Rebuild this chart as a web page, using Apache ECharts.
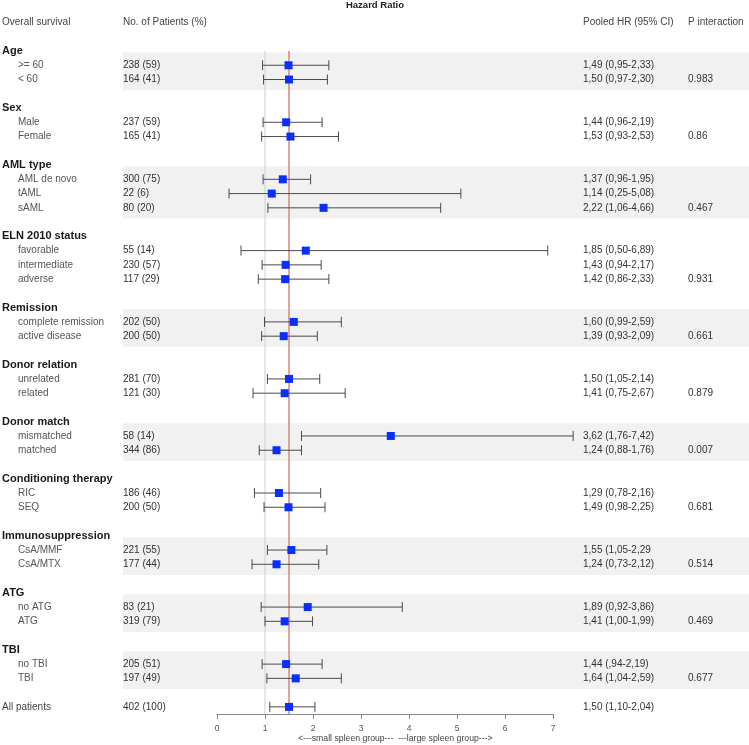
<!DOCTYPE html>
<html>
<head>
<meta charset="utf-8">
<script src="https://cdn.jsdelivr.net/npm/echarts@6/dist/echarts.min.js"></script>
<style>
  html, body { margin: 0; padding: 0; background: #fff; }
  #chart { width: 749px; height: 745px; }
</style>
</head>
<body>
<div id="chart"></div>
<script>
// 分组
var groupNames = ['Age', 'Sex', 'AML type', 'ELN 2010 status', 'Remission', 'Donor relation',
  'Donor match', 'Conditioning therapy', 'Immunosuppression', 'ATG', 'TBI']
var groupSizes = [2, 2, 3, 3, 2, 2, 2, 2, 2, 2, 2]
var groupShaded = [true, false, true, false, true, false, true, false, true, true, true]
var pInteraction = ['0.983', '0.86', '0.467', '0.931', '0.661', '0.879', '0.007', '0.681', '0.514', '0.469', '0.677']

// 子组 (last one = all patients)
var rowLabels = ['>= 60', '< 60', 'Male', 'Female', 'AML de novo', 'tAML', 'sAML',
  'favorable', 'intermediate', 'adverse', 'complete remission', 'active disease',
  'unrelated', 'related', 'mismatched', 'matched', 'RIC', 'SEQ', 'CsA/MMF', 'CsA/MTX',
  'no ATG', 'ATG', 'no TBI', 'TBI', 'All patients']
var patients = ['238 (59)', '164 (41)', '237 (59)', '165 (41)', '300 (75)', '22 (6)', '80 (20)',
  '55 (14)', '230 (57)', '117 (29)', '202 (50)', '200 (50)', '281 (70)', '121 (30)',
  '58 (14)', '344 (86)', '186 (46)', '200 (50)', '221 (55)', '177 (44)', '83 (21)',
  '319 (79)', '205 (51)', '197 (49)', '402 (100)']
var hr = [1.49, 1.50, 1.44, 1.53, 1.37, 1.14, 2.22, 1.85, 1.43, 1.42, 1.60, 1.39, 1.50, 1.41,
  3.62, 1.24, 1.29, 1.49, 1.55, 1.24, 1.89, 1.41, 1.44, 1.64, 1.50]
var ciLow = [0.95, 0.97, 0.96, 0.93, 0.96, 0.25, 1.06, 0.50, 0.94, 0.86, 0.99, 0.93, 1.05, 0.75,
  1.76, 0.88, 0.78, 0.98, 1.05, 0.73, 0.92, 1.00, 0.94, 1.04, 1.10]
var ciHigh = [2.33, 2.30, 2.19, 2.53, 1.95, 5.08, 4.66, 6.89, 2.17, 2.33, 2.59, 2.09, 2.14, 2.67,
  7.42, 1.76, 2.16, 2.25, 2.29, 2.12, 3.86, 1.99, 2.19, 2.59, 2.04]
var hrText = ['1,49 (0,95-2,33)', '1,50 (0,97-2,30)', '1,44 (0,96-2,19)', '1,53 (0,93-2,53)',
  '1,37 (0,96-1,95)', '1,14 (0,25-5,08)', '2,22 (1,06-4,66)', '1,85 (0,50-6,89)',
  '1,43 (0,94-2,17)', '1,42 (0,86-2,33)', '1,60 (0,99-2,59)', '1,39 (0,93-2,09)',
  '1,50 (1,05-2,14)', '1,41 (0,75-2,67)', '3,62 (1,76-7,42)', '1,24 (0,88-1,76)',
  '1,29 (0,78-2,16)', '1,49 (0,98-2,25)', '1,55 (1,05-2,29', '1,24 (0,73-2,12)',
  '1,89 (0,92-3,86)', '1,41 (1,00-1,99)', '1,44 (,94-2,19)', '1,64 (1,04-2,59)',
  '1,50 (1,10-2,04)']

var xTicks = [0, 1, 2, 3, 4, 5, 6, 7]
var refLines = [1, 1.5] // null line, pooled HR

// column x (px) & fonts
var FONT = 'Liberation Sans, Arial, sans-serif'
var COL_LABEL = 2, COL_SUB = 18, COL_N = 123, COL_HR = 583, COL_P = 688

// 行号: header, items, blank
var rowLine = []
var tableRows = []
var bands = []
var line = 0
var k = 0
for (var g = 0; g < groupNames.length; g++) {
  tableRows.push({ line: line, cells: [{ x: COL_LABEL, text: groupNames[g], font: 'bold 11px ' + FONT, color: '#1a1a1a' }] })
  var first = line + 1
  for (var j = 0; j < groupSizes[g]; j++) {
    line++
    rowLine.push(line)
    var cells = [
      { x: COL_SUB, text: rowLabels[k], font: '10px ' + FONT, color: '#555' },
      { x: COL_N, text: patients[k], font: '10px ' + FONT, color: '#333' },
      { x: COL_HR, text: hrText[k], font: '10px ' + FONT, color: '#333' }
    ]
    if (j == groupSizes[g] - 1) {
      cells.push({ x: COL_P, text: pInteraction[g], font: '10px ' + FONT, color: '#333' })
    }
    tableRows.push({ line: line, cells: cells })
    k++
  }
  if (groupShaded[g]) bands.push([first - 0.9, line + 0.75])
  line += 2
}
// all patients
rowLine.push(line)
tableRows.push({ line: line, cells: [
  { x: COL_LABEL, text: rowLabels[k], font: '10px ' + FONT, color: '#444' },
  { x: COL_N, text: patients[k], font: '10px ' + FONT, color: '#333' },
  { x: COL_HR, text: hrText[k], font: '10px ' + FONT, color: '#333' }
] })
var lastLine = line
// header row
tableRows.push({ line: -2, cells: [
  { x: COL_LABEL, text: 'Overall survival', font: '10px ' + FONT, color: '#444' },
  { x: COL_N, text: 'No. of Patients (%)', font: '10px ' + FONT, color: '#444' },
  { x: COL_HR, text: 'Pooled HR (95% CI)', font: '10px ' + FONT, color: '#444' },
  { x: COL_P, text: 'P interaction', font: '10px ' + FONT, color: '#444' }
] })
tableRows.push({ line: -3.2, cells: [
  { x: 375, text: 'Hazard Ratio', font: 'bold 9.5px ' + FONT, color: '#222', align: 'center' }
] })

var points = hr.map(function(v, i) { return [v, rowLine[i]] })
var whiskers = ciLow.map(function(v, i) { return [v, ciHigh[i], rowLine[i]] })

var myChart = echarts.init(document.getElementById('chart'), null, { renderer: 'canvas' })
myChart.setOption({
  animation: false,
  backgroundColor: '#fff',
  grid: { left: 217, right: 196, top: 51, bottom: 31 },
  xAxis: {
    type: 'value',
    min: xTicks[0],
    max: xTicks[xTicks.length - 1],
    interval: 1,
    position: 'bottom',
    axisLine: { onZero: false, lineStyle: { color: '#888', width: 1 } },
    axisTick: { show: true, length: 5, lineStyle: { color: '#888' } },
    axisLabel: { color: '#555', fontSize: 8.5, fontFamily: FONT, margin: 10 },
    splitLine: { show: false }
  },
  yAxis: {
    type: 'value',
    min: 0,
    max: lastLine + 0.5,
    inverse: true,
    show: false
  },
  graphic: [{
    type: 'text',
    left: 298,
    top: 734,
    style: { text: '<---small spleen group---  ---large spleen group--->', font: '8.7px ' + FONT, fill: '#444' }
  }],
  series: [{
    name: 'bands',
    type: 'custom',
    z: 0,
    silent: true,
    data: bands,
    renderItem: function(params, api) {
      var y0 = api.coord([0, api.value(0)])[1]
      var y1 = api.coord([0, api.value(1)])[1]
      return { type: 'rect', shape: { x: 123, y: y0, width: 626, height: y1 - y0 }, style: { fill: '#f1f1f1' } }
    }
  }, {
    name: 'table',
    type: 'custom',
    z: 1,
    silent: true,
    data: tableRows.map(function(r) { return [0, r.line] }),
    renderItem: function(params, api) {
      var row = tableRows[params.dataIndex]
      var y = api.coord([0, row.line])[1]
      return {
        type: 'group',
        children: row.cells.map(function(c) {
          return { type: 'text', x: c.x, y: y, style: { text: c.text, font: c.font, fill: c.color, align: c.align || 'left', verticalAlign: 'middle' } }
        })
      }
    }
  }, {
    name: 'refLines',
    type: 'custom',
    z: 2,
    silent: true,
    data: refLines.map(function(v) { return [v] }),
    renderItem: function(params, api) {
      var top = api.coord([api.value(0), 0])
      var bot = api.coord([api.value(0), lastLine + 0.5])
      var red = params.dataIndex == 1
      return {
        type: 'line',
        shape: { x1: top[0], y1: top[1], x2: bot[0], y2: bot[1] },
        style: { stroke: red ? '#d9857b' : '#cfcfcf', lineWidth: red ? 1.5 : 1 }
      }
    }
  }, {
    name: 'CI',
    type: 'custom',
    z: 3,
    silent: true,
    data: whiskers,
    renderItem: function(params, api) {
      var a = api.coord([api.value(0), api.value(2)])
      var b = api.coord([api.value(1), api.value(2)])
      var st = { stroke: '#4a4a4a', lineWidth: 1 }
      return {
        type: 'group',
        children: [
          { type: 'line', shape: { x1: a[0], y1: a[1], x2: b[0], y2: b[1] }, style: st },
          { type: 'line', shape: { x1: a[0], y1: a[1] - 5, x2: a[0], y2: a[1] + 5 }, style: st },
          { type: 'line', shape: { x1: b[0], y1: b[1] - 5, x2: b[0], y2: b[1] + 5 }, style: st }
        ]
      }
    }
  }, {
    name: 'HR',
    type: 'scatter',
    z: 4,
    symbol: 'rect',
    symbolSize: 8,
    itemStyle: { color: '#0a2eff', opacity: 1 },
    data: points
  }]
})
</script>
</body>
</html>
